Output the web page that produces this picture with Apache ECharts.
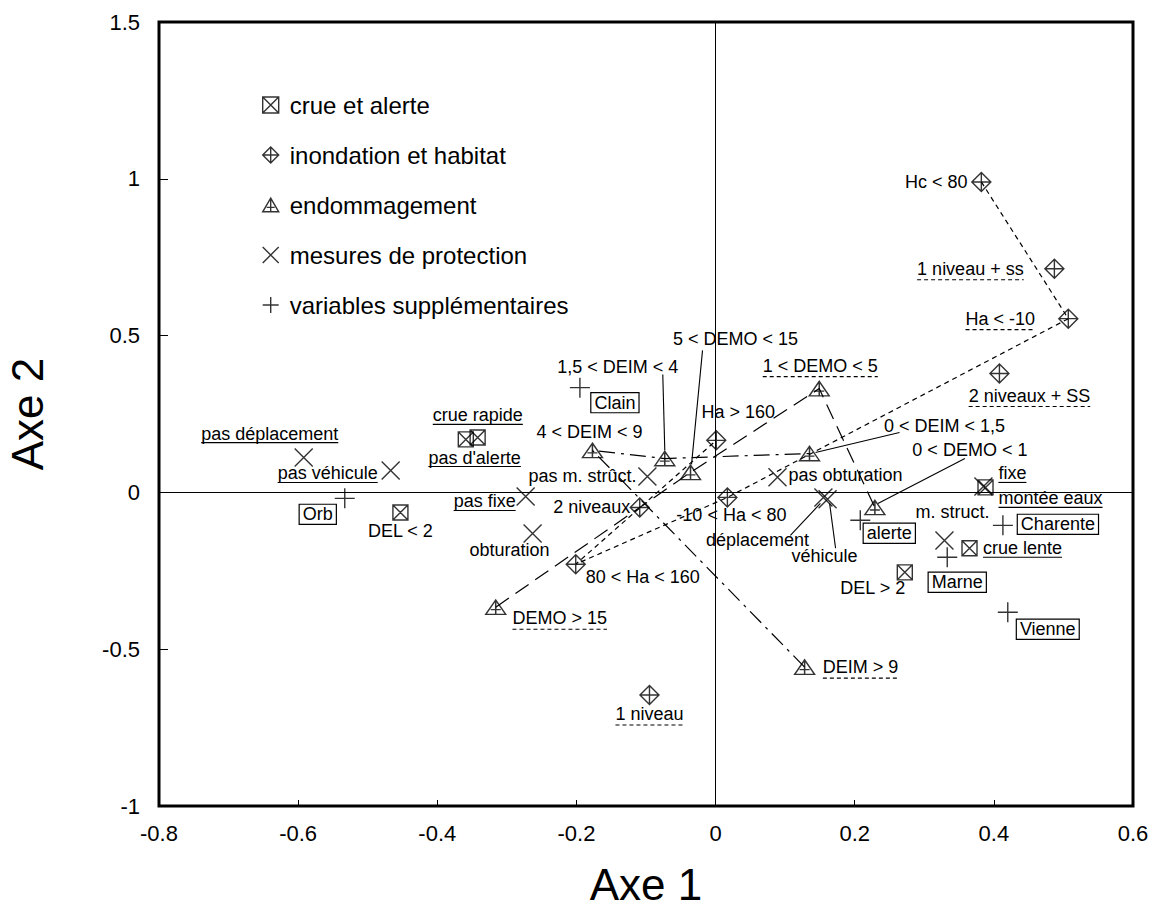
<!DOCTYPE html>
<html>
<head>
<meta charset="utf-8">
<script src="https://cdn.jsdelivr.net/npm/echarts@6/dist/echarts.min.js"></script>
</head>
<body style="margin:0; background:#fff">
<div id="main" style="width:1153px; height:916px"></div>
<script type="text/javascript">
// --- values ---
var crueNames = ['crue rapide', "pas d'alerte", 'DEL < 2', 'montée eaux', 'crue lente', 'DEL > 2'];
var crueX = [-0.359, -0.342, -0.453, 0.388, 0.365, 0.272];
var crueY = [0.169, 0.175, -0.064, 0.016, -0.178, -0.255];

var habNames = ['Hc < 80', '1 niveau + ss', 'Ha < -10', '2 niveaux + SS', 'Ha > 160', '-10 < Ha < 80', '2 niveaux', '80 < Ha < 160', '1 niveau'];
var habX = [0.382, 0.487, 0.507, 0.408, 0.001, 0.017, -0.109, -0.201, -0.095];
var habY = [0.990, 0.713, 0.554, 0.379, 0.166, -0.016, -0.048, -0.229, -0.646];

var endoNames = ['5 < DEMO < 15', '1,5 < DEIM < 4', '1 < DEMO < 5', '4 < DEIM < 9', '0 < DEIM < 1,5', '0 < DEMO < 1', 'DEMO > 15', 'DEIM > 9'];
var endoX = [-0.036, -0.073, 0.149, -0.177, 0.135, 0.229, -0.316, 0.128];
var endoY = [0.064, 0.108, 0.331, 0.134, 0.124, -0.048, -0.366, -0.557];

var mesNames = ['pas déplacement', 'pas véhicule', 'pas fixe', 'obturation', 'pas m. strûct.', 'pas obturation', 'déplacement', 'véhicule', 'fixe', 'm. struct.'];
var mesX = [-0.592, -0.467, -0.273, -0.263, -0.098, 0.089, 0.155, 0.161, 0.385, 0.329];
var mesY = [0.111, 0.070, -0.013, -0.131, 0.051, 0.048, -0.016, -0.022, 0.019, -0.153];

var supNames = ['Clain', 'Orb', 'alerte', 'Marne', 'Charente', 'Vienne'];
var supX = [-0.195, -0.533, 0.208, 0.333, 0.413, 0.420];
var supY = [0.334, -0.019, -0.089, -0.207, -0.105, -0.382];

// chains of modalities joined by lines
var hcLink = ['Hc < 80', 'Ha < -10'];
var haChain = ['Ha < -10', '-10 < Ha < 80', '80 < Ha < 160', 'Ha > 160'];
var demoChain = ['DEMO > 15', '5 < DEMO < 15', '1 < DEMO < 5', '0 < DEMO < 1'];
var deimChain = ['DEIM > 9', '4 < DEIM < 9', '1,5 < DEIM < 4', '0 < DEIM < 1,5'];

var xTicks = [-0.8, -0.6, -0.4, -0.2, 0, 0.2, 0.4, 0.6];
var yTicks = [-1, -0.5, 0, 0.5, 1, 1.5];

// --- label placement (pixel offsets from the point) and decoration ---
// u = underline, d = dashed underline, b = box
var labelLayout = {
    'crue rapide': [12, -24, 'u'], "pas d'alerte": [-3, 20, 'u'], 'DEL < 2': [0, 19],
    'montée eaux': [65, 11, 'u'], 'crue lente': [53, 0, 'u'], 'DEL > 2': [-32, 16],
    'Hc < 80': [-45, 0], '1 niveau + ss': [-84, 0, 'd'], 'Ha < -10': [-68, 0, 'd'],
    '2 niveaux + SS': [30, 22, 'd'], 'Ha > 160': [22, -28], '-10 < Ha < 80': [4, 18],
    '2 niveaux': [-48, 0], '80 < Ha < 160': [67, 13], '1 niveau': [0, 19, 'd'],
    '5 < DEMO < 15': [45, -133], '1,5 < DEIM < 4': [-47, -92], '1 < DEMO < 5': [1, -23, 'd'],
    '4 < DEIM < 9': [-3, -18], '0 < DEIM < 1,5': [135, -28], '0 < DEMO < 1': [95, -57],
    'DEMO > 15': [64, 11, 'd'], 'DEIM > 9': [56, 0, 'd'],
    'pas déplacement': [-34, -24, 'u'], 'pas véhicule': [-63, 3, 'u'], 'pas fixe': [-41, 5, 'u'],
    'obturation': [-23, 17], 'pas m. strûct.': [-65, 0], 'pas obturation': [68, -2],
    'déplacement': [-66, 43], 'véhicule': [-3, 57], 'fixe': [29, -13, 'u'], 'm. struct.': [8, -28],
    'Clain': [35, 15, 'b'], 'Orb': [-27, 16, 'b'], 'alerte': [29, 13, 'b'],
    'Marne': [10, 25, 'b'], 'Charente': [55, -1, 'b'], 'Vienne': [40, 17, 'b']
};
// leader lines: start and end offsets in px from the point
var leaders = [
    ['5 < DEMO < 15', [12, -122], [1, -8]],
    ['1,5 < DEIM < 4', [-2, -84], [0, -8]],
    ['0 < DEIM < 1,5', [90, -21], [6, -1]],
    ['0 < DEMO < 1', [90, -49], [3, -4]],
    ['déplacement', [-33, 38], [-3, 6]],
    ['véhicule', [8, 49], [2, 4]]
];

var FONT = '"Liberation Sans", Arial, Helvetica, sans-serif';
var SYM = {
    crue: 'path://M0,0 L10,0 L10,10 L0,10 Z M0,0 L10,10 M10,0 L0,10',
    hab: 'path://M5,0 L10,5 L5,10 L0,5 Z M5,0 L5,10 M0,5 L10,5',
    endo: 'path://M10,0 L20,17 L0,17 Z M10,0 L10,17 M5,11.5 L15,11.5',
    mes: 'path://M0,0 L10,10 M10,0 L0,10',
    sup: 'path://M5,0 L5,10 M0,5 L10,5'
};
var symStyle = {color: 'rgba(0,0,0,0)', borderColor: '#000', borderWidth: 1.4};

var points = {};
function pts(names, xs, ys) {
    var out = [];
    for (var i = 0; i < names.length; i++) {
        points[names[i]] = [xs[i], ys[i]];
        out.push({name: names[i], value: [xs[i], ys[i]]});
    }
    return out;
}
function chain(list) {
    return list.map(function (n) { return points[n]; });
}

var groups = [
    {name: 'crue et alerte', data: pts(crueNames, crueX, crueY), symbol: SYM.crue, size: 15},
    {name: 'inondation et habitat', data: pts(habNames, habX, habY), symbol: SYM.hab, size: 19},
    {name: 'endommagement', data: pts(endoNames, endoX, endoY), symbol: SYM.endo, size: [20, 17]},
    {name: 'mesures de protection', data: pts(mesNames, mesX, mesY), symbol: SYM.mes, size: 18},
    {name: 'variables supplémentaires', data: pts(supNames, supX, supY), symbol: SYM.sup, size: 20}
];

var chart = echarts.init(document.getElementById('main'), null, {renderer: 'svg'});

var serie = [];
function lineSerie(list, dash) {
    return {
        type: 'line', data: chain(list), symbol: 'none', silent: true, z: 1,
        lineStyle: {color: '#000', width: 1.2, type: dash}
    };
}
serie.push(lineSerie(hcLink, [5, 4]));
serie.push(lineSerie(haChain, [5, 4]));
serie.push(lineSerie(demoChain, [16, 8]));
serie.push(lineSerie(deimChain, [16, 6, 3, 6]));
// axes through the origin
serie[0].markLine = {
    silent: true, symbol: 'none', label: {show: false},
    lineStyle: {color: '#000', width: 1, type: 'solid'},
    data: [{xAxis: 0}, {yAxis: 0}]
};
for (var g = 0; g < groups.length; g++) {
    serie.push({
        name: groups[g].name, type: 'scatter', data: groups[g].data,
        symbol: groups[g].symbol, symbolSize: groups[g].size, symbolKeepAspect: true,
        itemStyle: symStyle, z: 3
    });
}

var legendData = groups.map(function (gr) {
    return {name: gr.name, icon: gr.symbol, itemStyle: symStyle};
});

option = {
    animation: false,
    backgroundColor: '#fff',
    grid: {
        left: 159, right: 20, top: 22, bottom: 110, outerBoundsMode: 'none',
        show: true, borderColor: '#000', borderWidth: 3, backgroundColor: 'transparent'
    },
    legend: {
        orient: 'vertical', left: 257, top: 88, itemGap: 26, itemWidth: 16, itemHeight: 16,
        textStyle: {fontSize: 24, color: '#000', fontFamily: FONT, padding: [0, 0, 0, 6]},
        data: legendData, selectedMode: false
    },
    xAxis: {
        type: 'value', min: xTicks[0], max: xTicks[xTicks.length - 1], interval: 0.2,
        name: 'Axe 1', nameLocation: 'middle', nameGap: 56,
        nameTextStyle: {fontSize: 44, color: '#000', fontFamily: FONT},
        axisLine: {show: false, onZero: false},
        axisTick: {show: true, inside: true, length: 6, lineStyle: {color: '#000'}},
        splitLine: {show: false},
        axisLabel: {fontSize: 22, color: '#000', fontFamily: FONT, margin: 16}
    },
    yAxis: {
        type: 'value', min: yTicks[0], max: yTicks[yTicks.length - 1], interval: 0.5,
        name: 'Axe 2', nameLocation: 'middle', nameGap: 110,
        nameTextStyle: {fontSize: 44, color: '#000', fontFamily: FONT},
        axisLine: {show: false, onZero: false},
        axisTick: {show: true, inside: true, length: 9, lineStyle: {color: '#000'}},
        splitLine: {show: false},
        axisLabel: {fontSize: 22, color: '#000', fontFamily: FONT, margin: 19}
    },
    series: serie
};
chart.setOption(option);

// labels, underlines, boxes and leader lines placed with the chart's own scales
var ctx = document.createElement('canvas').getContext('2d');
ctx.font = '18px ' + FONT;
function annotate() {
    var els = [];
    Object.keys(points).forEach(function (n) {
        var lay = labelLayout[n];
        if (!lay) return;
        var c = chart.convertToPixel({gridIndex: 0}, points[n]);
        var tx = c[0] + lay[0], ty = c[1] + lay[1];
        var st = {text: n, font: '18px ' + FONT, fill: '#000', align: 'center', verticalAlign: 'middle'};
        if (lay[2] === 'b') {
            st.backgroundColor = '#fff';
            st.borderColor = '#000';
            st.borderWidth = 1.2;
            st.padding = [1, 3, 0, 3];
        }
        els.push({type: 'text', x: tx, y: ty, z: 10, silent: true, style: st});
        if (lay[2] === 'u' || lay[2] === 'd') {
            var w = ctx.measureText(n).width;
            var off = lay[2] === 'd' ? 11 : 9;
            els.push({
                type: 'line', z: 10, silent: true,
                shape: {x1: tx - w / 2, y1: ty + off, x2: tx + w / 2, y2: ty + off},
                style: {stroke: '#000', lineWidth: 1.1, lineDash: lay[2] === 'd' ? [4, 3] : null}
            });
        }
    });
    leaders.forEach(function (l) {
        var c = chart.convertToPixel({gridIndex: 0}, points[l[0]]);
        els.push({
            type: 'line', z: 9, silent: true,
            shape: {x1: c[0] + l[1][0], y1: c[1] + l[1][1], x2: c[0] + l[2][0], y2: c[1] + l[2][1]},
            style: {stroke: '#000', lineWidth: 1.1}
        });
    });
    chart.setOption({graphic: {elements: els}});
}
annotate();
</script>
</body>
</html>
